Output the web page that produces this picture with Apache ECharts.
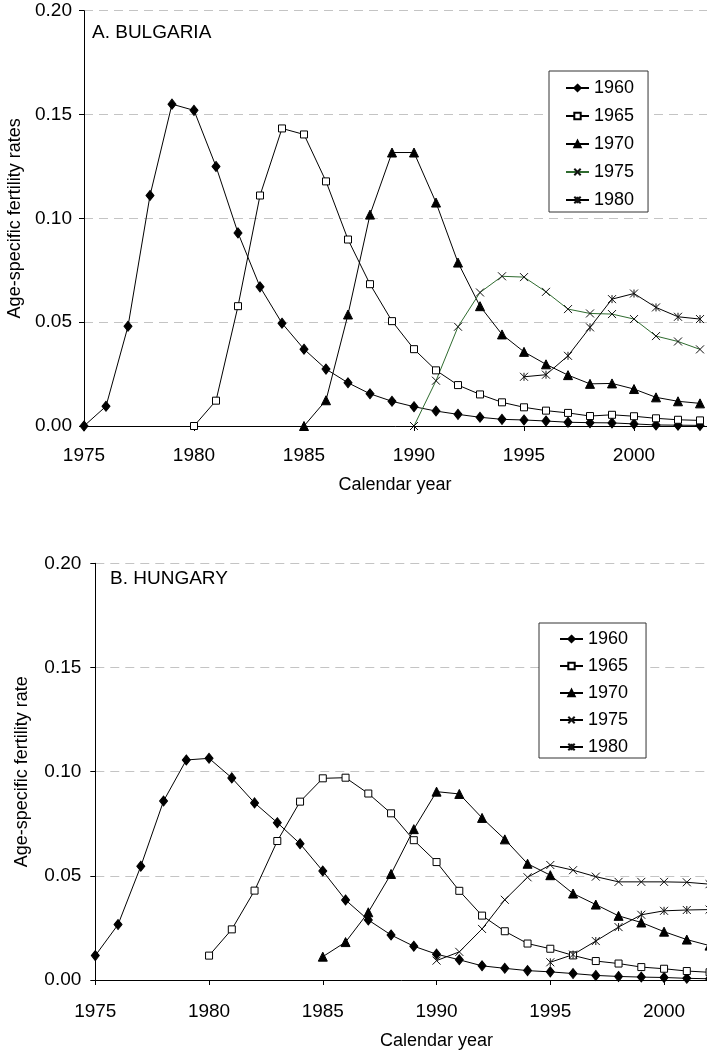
<!DOCTYPE html>
<html>
<head>
<meta charset="utf-8">
<script src="https://cdn.jsdelivr.net/npm/echarts@6/dist/echarts.min.js"></script>
<style>
  html, body { margin: 0; padding: 0; background: #fff; }
  #chart { width: 707px; height: 1053px; }
</style>
</head>
<body>
<div id="chart"></div>
<script>
// cohorts (birth year), first calendar year of each curve
const cohorts = ['1960', '1965', '1970', '1975', '1980']
const startYears = [1975, 1980, 1985, 1990, 1995]
const xTicks = [1975, 1980, 1985, 1990, 1995, 2000]
const yTicks = [0, 0.05, 0.10, 0.15, 0.20]

// A. Bulgaria, age-specific fertility rates
const bg1960 = [0, 0.0095, 0.048, 0.111, 0.155, 0.152, 0.125, 0.093, 0.067, 0.0495, 0.037, 0.0274, 0.0208, 0.0155, 0.0119, 0.0093, 0.0072, 0.0056, 0.0042, 0.0032, 0.0029, 0.0024, 0.0018, 0.0016, 0.0015, 0.001, 0.0005, 0.0004, 0.0003]
const bg1965 = [0, 0.0122, 0.0577, 0.111, 0.1433, 0.1404, 0.1178, 0.0898, 0.0683, 0.0505, 0.037, 0.0268, 0.0197, 0.0152, 0.0114, 0.009, 0.0074, 0.0063, 0.0048, 0.0054, 0.0047, 0.0037, 0.003, 0.0027]
const bg1970 = [0, 0.0124, 0.0537, 0.1018, 0.1317, 0.1317, 0.1076, 0.0787, 0.0577, 0.0441, 0.0357, 0.0297, 0.0245, 0.0203, 0.0205, 0.0178, 0.0138, 0.0119, 0.0109]
const bg1975 = [0, 0.0218, 0.0478, 0.0643, 0.0721, 0.0717, 0.0646, 0.0563, 0.0542, 0.0539, 0.0515, 0.0433, 0.0407, 0.0369]
const bg1980 = [0.0237, 0.0247, 0.0338, 0.0475, 0.0611, 0.0638, 0.0571, 0.0526, 0.0515]

// B. Hungary
const hu1960 = [0.0117, 0.0266, 0.0546, 0.0859, 0.1056, 0.1064, 0.097, 0.085, 0.0755, 0.0654, 0.0523, 0.0384, 0.0288, 0.0216, 0.0162, 0.0124, 0.0097, 0.0068, 0.0056, 0.0045, 0.0039, 0.0031, 0.0022, 0.0017, 0.0014, 0.0012, 0.0008, 0.0006]
const hu1965 = [0.0117, 0.0243, 0.0429, 0.0667, 0.0856, 0.0968, 0.0971, 0.0895, 0.08, 0.0671, 0.0566, 0.0428, 0.0309, 0.0234, 0.0175, 0.015, 0.0118, 0.0091, 0.0079, 0.0062, 0.0054, 0.0043, 0.0037]
const hu1970 = [0.0112, 0.0182, 0.0325, 0.0509, 0.0724, 0.0904, 0.0893, 0.0778, 0.0675, 0.0558, 0.0503, 0.0415, 0.0362, 0.0308, 0.0276, 0.0232, 0.0194, 0.0165]
const hu1975 = [0.0093, 0.0135, 0.0245, 0.0385, 0.0493, 0.0552, 0.0527, 0.0496, 0.0471, 0.0471, 0.0471, 0.0469, 0.046]
const hu1980 = [0.0085, 0.0122, 0.0187, 0.0254, 0.0313, 0.0332, 0.0336, 0.0338]

const FONT = '"Liberation Sans", Arial, sans-serif'
const GREEN = '#2f6b2f'

const crossPath = 'path://M0,0L10,10M10,0L0,10'
const starPath = 'path://M0,0L10,10M10,0L0,10M5,0L5,10'

// marker look per cohort
const marks = [
  { symbol: 'diamond', symbolSize: [8, 10], itemStyle: { color: '#000', borderColor: '#000', borderWidth: 1 } },
  { symbol: 'rect', symbolSize: 7, itemStyle: { color: '#fff', borderColor: '#000', borderWidth: 1 } },
  { symbol: 'triangle', symbolSize: 9, itemStyle: { color: '#000', borderColor: '#000', borderWidth: 1 } },
  { symbol: crossPath, symbolSize: 8, itemStyle: { color: 'none', borderColor: '#111', borderWidth: 1 } },
  { symbol: starPath, symbolSize: 8, itemStyle: { color: 'none', borderColor: '#111', borderWidth: 1 } }
]

function pairs(start, vals) {
  return vals.map((v, i) => [start + i, v])
}

function makeSeries(prefix, idx, sets, lineColors) {
  return sets.map((vals, i) => ({
    name: prefix + cohorts[i],
    type: 'line',
    xAxisIndex: idx,
    yAxisIndex: idx,
    data: pairs(startYears[i], vals),
    symbol: marks[i].symbol,
    symbolSize: marks[i].symbolSize,
    showAllSymbol: true,
    itemStyle: marks[i].itemStyle,
    lineStyle: { color: lineColors[i], width: 1 },
    emphasis: { disabled: true },
    animation: false
  }))
}

function xAxis(idx, margin, gap, namePad) {
  return {
    type: 'value',
    gridIndex: idx,
    min: 1975,
    max: 2005,
    interval: 5,
    name: 'Calendar year',
    nameLocation: 'middle',
    nameGap: gap,
    nameTextStyle: { fontFamily: FONT, fontSize: 18, color: '#000', padding: namePad },
    axisLine: { lineStyle: { color: '#000', width: 1 } },
    axisTick: { show: true, length: 5, lineStyle: { color: '#000' } },
    axisLabel: { margin: margin, fontFamily: FONT, fontSize: 19, color: '#000',
      formatter: v => (xTicks.indexOf(v) >= 0 ? String(v) : '') },
    splitLine: { show: false }
  }
}

function yAxis(idx, title, gap, margin) {
  return {
    type: 'value',
    gridIndex: idx,
    min: yTicks[0],
    max: yTicks[yTicks.length - 1],
    interval: 0.05,
    name: title,
    nameLocation: 'middle',
    nameGap: gap,
    nameTextStyle: { fontFamily: FONT, fontSize: 18, color: '#000' },
    axisLine: { show: true, lineStyle: { color: '#000', width: 1 } },
    axisTick: { show: true, length: 5, lineStyle: { color: '#000' } },
    axisLabel: { margin: margin, fontFamily: FONT, fontSize: 19, color: '#000', formatter: v => v.toFixed(2) },
    splitLine: { show: true, lineStyle: { color: '#c4c4c4', type: [9, 6], width: 1 } }
  }
}

function legend(prefix, left, top, padding, gap) {
  return {
    data: cohorts.map(c => prefix + c),
    orient: 'vertical',
    left: left,
    top: top,
    itemWidth: 23,
    itemHeight: 8,
    itemGap: gap,
    padding: padding,
    borderColor: '#333',
    borderWidth: 1,
    backgroundColor: '#fff',
    selectedMode: false,
    formatter: n => n.slice(prefix.length),
    textStyle: { fontFamily: FONT, fontSize: 18, color: '#000' }
  }
}

const chart = echarts.init(document.getElementById('chart'), null, { renderer: 'canvas' })

const option = {
  backgroundColor: '#fff',
  animation: false,
  title: [
    { text: 'A. BULGARIA', left: 92, top: 23, padding: 0, textStyle: { fontFamily: FONT, fontSize: 19, fontWeight: 'normal', color: '#000' } },
    { text: 'B. HUNGARY', left: 110, top: 569, padding: 0, textStyle: { fontFamily: FONT, fontSize: 19, fontWeight: 'normal', color: '#000' } }
  ],
  legend: [
    legend('BG ', 549, 71, [8, 14, 3, 16], 10),
    legend('HU ', 539, 623, [7, 18, 2, 20], 9)
  ],
  grid: [
    { left: 84, top: 10.7, width: 660, height: 415.3, outerBoundsMode: 'none' },
    { left: 95.3, top: 563.3, width: 682.5, height: 416.7, outerBoundsMode: 'none' }
  ],
  xAxis: [
    xAxis(0, 20, 50, [0, 38, 0, 0]),
    xAxis(1, 22, 52, 0)
  ],
  yAxis: [
    yAxis(0, 'Age-specific fertility rates', 57, 12),
    yAxis(1, 'Age-specific fertility rate', 64, 14)
  ],
  series: [].concat(
    makeSeries('BG ', 0, [bg1960, bg1965, bg1970, bg1975, bg1980], ['#000', '#000', '#000', GREEN, '#000']),
    makeSeries('HU ', 1, [hu1960, hu1965, hu1970, hu1975, hu1980], ['#000', '#000', '#000', '#000', '#000'])
  )
}

chart.setOption(option)
window.addEventListener('resize', chart.resize)
</script>
</body>
</html>
